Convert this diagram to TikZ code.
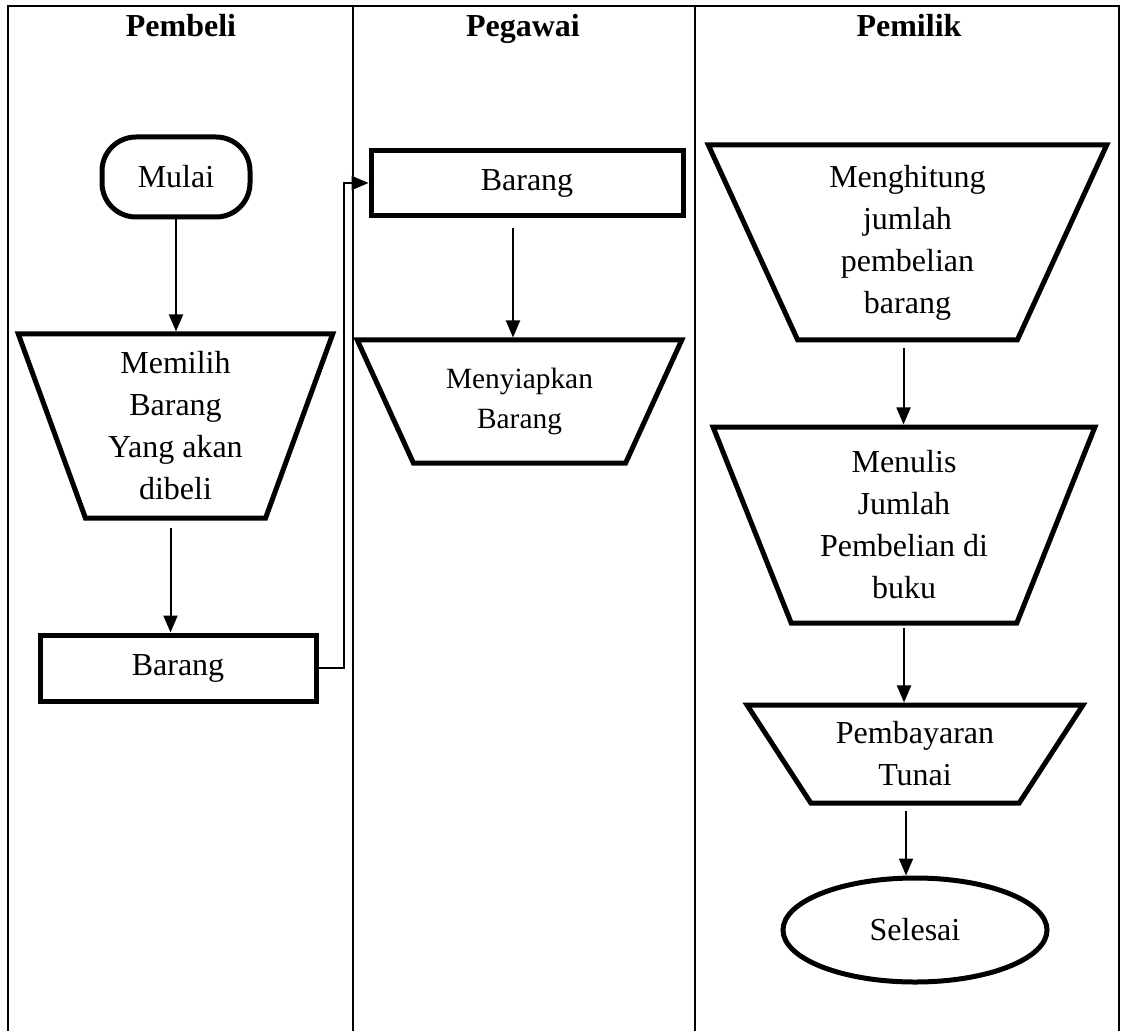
\documentclass[tikz,border=0pt]{standalone}
\usepackage{fontspec}
\setmainfont{Liberation Serif}
\usetikzlibrary{positioning,shapes.geometric,arrows.meta}

\begin{document}
\begin{tikzpicture}[x=0.5pt,y=-0.5pt]
\tikzset{lane/.style={line width=1pt},
  head/.style={font=\fontsize{16}{20}\selectfont\bfseries},
  txt/.style={align=center,font=\fontsize{16}{21}\selectfont},
  term/.style={txt,draw,line width=2.5pt,rounded corners=17pt,minimum width=74pt,minimum height=40pt},
  doc/.style={txt,draw,line width=2.5pt,minimum width=#1,minimum height=33pt},
  manual/.style={txt,draw,line width=2.5pt,trapezium,shape border rotate=180,trapezium stretches=true},
  stop/.style={txt,draw,line width=2.5pt,ellipse,minimum width=132pt,minimum height=52pt},
  arr/.style={-{Triangle[length=8.5pt,width=7pt]},line width=1pt}};
   \useasboundingbox (0,0) rectangle (1122,1031);
   % lanes
   \draw[lane] (8,1031) -- (8,6) -- (1119,6) -- (1119,1031);
   \draw[lane] (353,6) -- (353,1031);
   \draw[lane] (695,6) -- (695,1031);
   \node[head,anchor=base] (h1) at (181,37) {Pembeli};
   \node[head,anchor=base] (h2) at (523,37) {Pegawai};
   \node[head,anchor=base] (h3) at (909,37) {Pemilik};

   % Pembeli
   \node[term] (mulai) at (176,177) {Mulai};
   \node[manual,trapezium angle=71.2,minimum width=157.5pt,minimum height=92pt] (memilih) at (175.5,426) {Memilih\\Barang\\Yang akan\\dibeli};
   \node[doc=138pt] (barang1) at (178,668) {Barang};

   % Pegawai
   \node[doc=156pt,minimum height=32.5pt] (barang2) at (527,183) {Barang};
   \node[manual,trapezium angle=62.1,minimum width=162.5pt,minimum height=61.5pt,font=\fontsize{14.7}{20}\selectfont] (siap) at (519.5,401.5) {Menyiapkan\\Barang};

   % Pemilik
   \node[manual,trapezium angle=67.7,minimum width=199.5pt,minimum height=97.5pt] (hitung) at (907.5,242.5) {Menghitung\\jumlah\\pembelian\\barang};
   \node[manual,trapezium angle=68.8,minimum width=191pt,minimum height=98pt] (tulis) at (904,525) {Menulis\\Jumlah\\Pembelian di\\buku};
   \node[manual,trapezium angle=56,minimum width=168pt,minimum height=49pt] (bayar) at (915,754) {Pembayaran\\Tunai};
   \node[stop] (selesai) at (915,930) {Selesai};

   \coordinate (elbow) at (344,668);
   \draw[arr] (mulai.south) -- (mulai.south |- memilih.north);
   \draw[arr,shorten <=3.5pt] ([xshift=-2.5pt]memilih.south) -- ([xshift=-2.5pt]memilih.south |- barang1.north);
   \draw[arr] (barang1.east) -- (elbow) |- (barang2.west);
   \draw[arr,shorten <=5pt] ([xshift=-7pt]barang2.south) -- ([xshift=-7pt]barang2.south |- siap.north);
   \draw[arr,shorten <=2.5pt] ([xshift=-2pt]hitung.south) -- ([xshift=-2pt]hitung.south |- tulis.north);
   \draw[arr,shorten <=1pt] (tulis.south) -- (tulis.south |- bayar.north);
   \draw[arr,shorten <=2.5pt] ([xshift=-4.5pt]bayar.south) -- ([xshift=-4.5pt]bayar.south |- selesai.north);
 \end{tikzpicture}
\end{document}
